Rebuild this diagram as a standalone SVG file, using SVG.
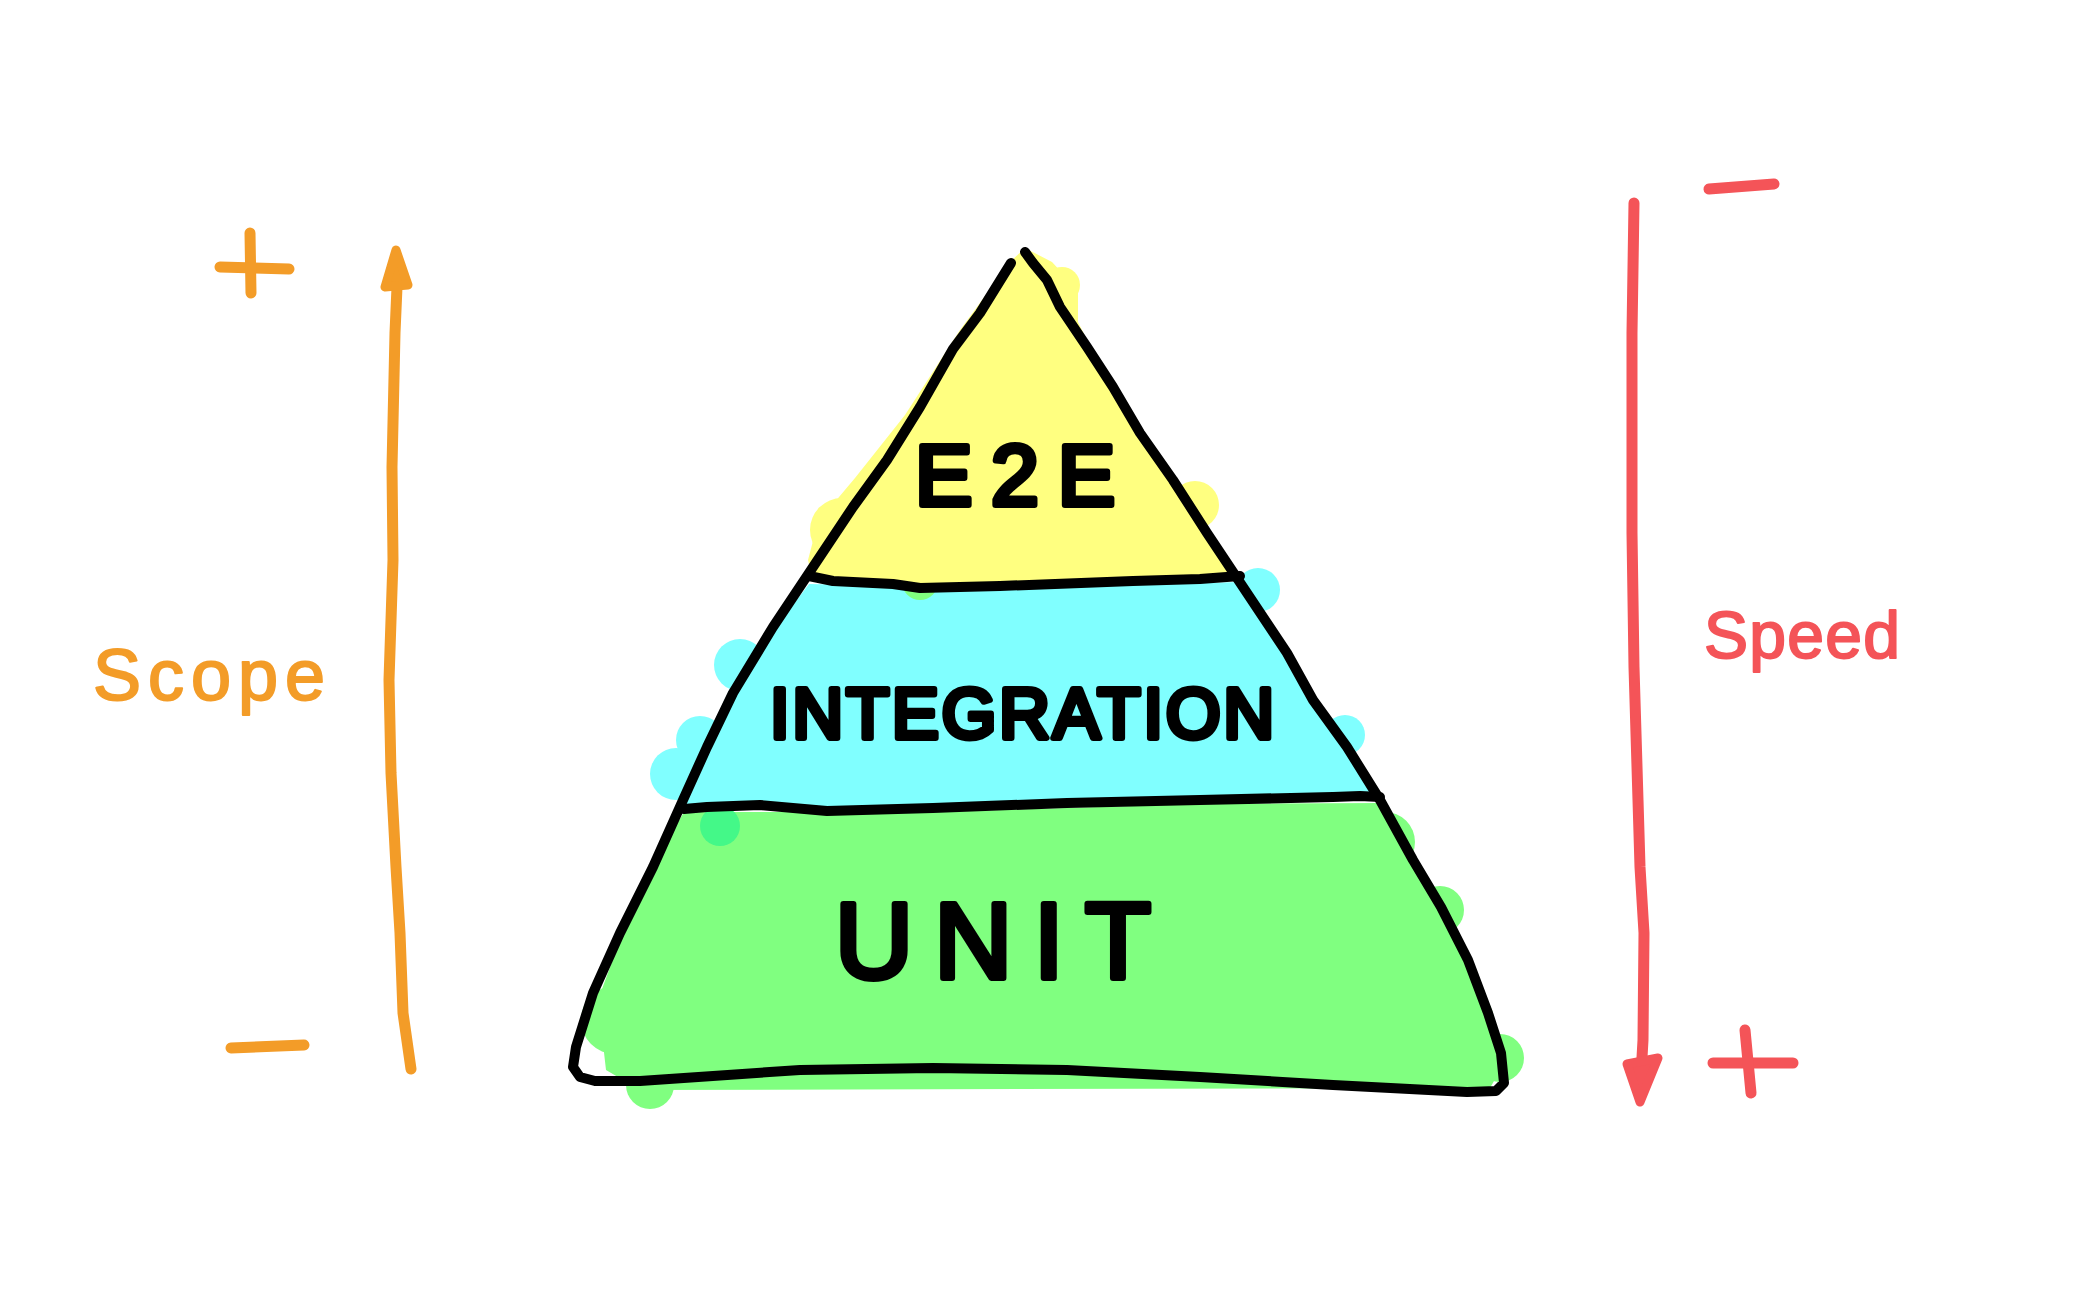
<svg xmlns="http://www.w3.org/2000/svg" width="2091" height="1291" viewBox="0 0 2091 1291">
<defs>
<style>
.ink{fill:none;stroke:#000;stroke-width:10;stroke-linecap:round;stroke-linejoin:round}
.lbl{font-family:"Liberation Sans","DejaVu Sans",sans-serif;font-weight:normal;fill:#000;stroke:#000;stroke-width:6;stroke-linejoin:round;stroke-linecap:round}
.org{fill:none;stroke:#f39c28;stroke-width:11;stroke-linecap:round;stroke-linejoin:round}
.red{fill:none;stroke:#f45458;stroke-width:11;stroke-linecap:round;stroke-linejoin:round}
.hand{font-family:"Liberation Sans","DejaVu Sans",sans-serif;stroke-width:2;stroke-linejoin:round}
.yel{fill:#ffff80}
.cyn{fill:#80ffff}
.grn{fill:#80ff80}
</style>
</defs>
<rect width="2091" height="1291" fill="#fff"/>

<g id="unit-layer">
<polygon class="grn" points="684,812 650,870 620,940 598,1000 606,1070 640,1090 1490,1088 1506,1060 1492,1010 1462,940 1424,870 1392,820 1380,803 1200,804 933,812"/>
<circle class="grn" cx="615" cy="1020" r="34"/>
<circle class="grn" cx="650" cy="1085" r="24"/>
<circle class="grn" cx="1500" cy="1058" r="24"/>
<circle class="grn" cx="1385" cy="842" r="30"/>
<circle class="grn" cx="1440" cy="910" r="24"/>
<circle cx="720" cy="826" r="20" fill="#44f888"/>
<text class="lbl" x="993" y="978" font-size="108" text-anchor="middle" textLength="316" lengthAdjust="spacing">UNIT</text>
</g>

<g id="integration-layer">
<polygon class="cyn" points="809,584 780,622 742,662 706,740 676,790 684,806 933,808 1200,800 1380,797 1345,750 1310,700 1280,650 1258,606 1240,582 1000,588"/>
<circle class="cyn" cx="676" cy="774" r="26"/>
<circle class="cyn" cx="700" cy="740" r="24"/>
<circle class="cyn" cx="740" cy="665" r="26"/>
<circle class="cyn" cx="1258" cy="590" r="22"/>
<circle class="cyn" cx="1345" cy="735" r="20"/>
<circle cx="920" cy="582" r="18" fill="#80ff80"/>
<text class="lbl" x="1022" y="738" font-size="70" text-anchor="middle" textLength="504" lengthAdjust="spacing">INTEGRATION</text>
</g>

<g id="e2e-layer">
<polygon class="yel" points="1010,262 960,330 905,415 855,478 818,522 808,560 812,578 893,586 1000,588 1240,580 1212,540 1180,490 1142,432 1102,370 1078,322 1078,290 1052,262 1025,248"/>
<circle class="yel" cx="842" cy="530" r="32"/>
<circle class="yel" cx="1195" cy="505" r="24"/>
<circle class="yel" cx="1062" cy="285" r="18"/>
<text class="lbl" x="1015" y="505" font-size="86" text-anchor="middle" textLength="200" lengthAdjust="spacing">E2E</text>
</g>

<g id="pyramid-outline">
<polyline class="ink" points="1011,263 980,313 953,349 920,407 887,460 853,507 809,573 773,627 733,693 707,747 683,800 653,867 620,933 593,993 576,1047 573,1067 580,1077 595,1081 640,1081 800,1070 933,1068 1067,1070 1200,1077 1333,1085 1467,1092 1496,1091 1504,1083 1501,1053 1488,1013 1468,960 1441,907 1413,860 1380,800 1347,747 1313,700 1287,653 1247,593 1207,533 1173,480 1140,433 1113,387 1087,347 1060,307 1047,280 1033,263 1025,252"/>
<polyline class="ink" points="809,576 833,581 893,584 920,588 1000,586 1133,581 1200,579 1240,576"/>
<polyline class="ink" points="684,809 707,807 760,805 827,811 933,808 1067,803 1200,800 1333,797 1360,796 1380,797"/>
</g>

<g id="scope-axis">
<polyline class="org" points="220,267 289,269"/>
<polyline class="org" points="250,233 251,293"/>
<polyline class="org" points="231,1048 304,1045"/>
<text class="hand" x="93" y="700" font-size="72" fill="#f39c28" stroke="#f39c28" textLength="232" lengthAdjust="spacing">Scope</text>
</g>

<g id="speed-axis">
<polyline class="red" points="1709,189 1774,184"/>
<polyline class="red" points="1713,1063 1793,1063"/>
<polyline class="red" points="1745,1030 1751,1093"/>
<text class="hand" x="1704" y="658" font-size="66" fill="#f45458" stroke="#f45458" textLength="196" lengthAdjust="spacing">Speed</text>
</g>

<g id="connectors">
<polyline class="org" points="411,1069 403,1013 400,933 396,867 391,773 389,680 393,560 392,467 395,333 397,287"/>
<polygon points="396,250 385,287 408,285" fill="#f39c28" stroke="#f39c28" stroke-width="9" stroke-linejoin="round"/>
<polyline class="red" points="1634,203 1632,333 1632,533 1634,667 1638,800 1640,867 1644,933 1643,1040 1641,1075"/>
<polygon points="1640,1102 1627,1064 1658,1058" fill="#f45458" stroke="#f45458" stroke-width="9" stroke-linejoin="round"/>
</g>
</svg>
